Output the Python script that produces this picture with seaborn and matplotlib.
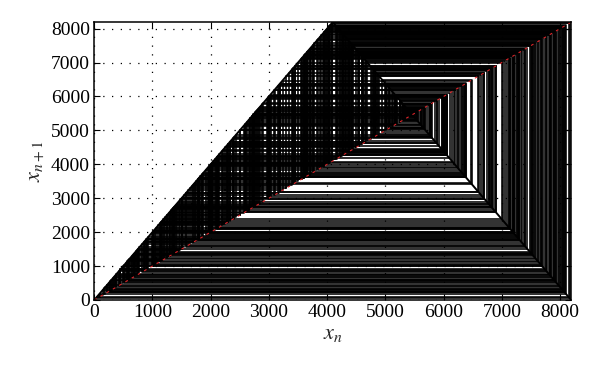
import matplotlib
matplotlib.use("Agg")
import matplotlib.pyplot as plt
import seaborn as sns
import pandas as pd

# Orbits of the discrete tent map (each closes back on its first value)
orbit_a = [1003, 2006, 4012, 8024, 335, 670, 1340, 2680, 5360, 5663, 5057, 6269, 3845, 7690, 1003]
orbit_b = [1010, 2020, 4040, 8080, 223, 446, 892, 1784, 3568, 7136, 2111, 4222, 7939, 505, 1010]
orbit_c = [1021, 2042, 4084, 8168, 47, 94, 188, 376, 752, 1504, 3008, 6016, 4351, 7681, 1021]
orbit_d = [1500, 3000, 6000, 4383, 7617, 1149, 2298, 4596, 7191, 2001, 4002, 8004, 375, 750, 1500]
orbit_e = [2500, 5000, 6383, 3617, 7234, 1915, 3830, 7660, 1063, 2126, 4252, 7879, 625, 1250, 2500]
orbit_f = [3300, 6600, 3183, 6366, 3651, 7302, 1779, 3558, 7116, 2151, 4302, 7779, 825, 1650, 3300]
orbit_g = [5464, 5455, 5473, 5437, 5509, 5365, 5653, 5077, 6229, 3925, 7850, 683, 1366, 2732, 5464]
orbit_h = [5459, 5465, 5453, 5477, 5429, 5525, 5333, 5717, 4949, 6485, 3413, 6826, 2731, 5462, 5459]
orbit_i = [4500, 7383, 1617, 3234, 6468, 3447, 6894, 2595, 5190, 6003, 4377, 7629, 1125, 2250, 4500]
orbit_j = [5800, 4783, 6817, 2749, 5498, 5387, 5609, 5165, 6053, 4277, 7829, 725, 1450, 2900, 5800]
orbit_k = [6700, 2983, 5966, 4451, 7481, 1421, 2842, 5684, 5015, 6353, 3677, 7354, 1675, 3350, 6700]
orbit_l = [1800, 3600, 7200, 1983, 3966, 7932, 519, 1038, 2076, 4152, 8079, 225, 450, 900, 1800]
orbit_m = [2200, 4400, 7583, 1217, 2434, 4868, 6647, 3089, 6178, 4027, 8054, 275, 550, 1100, 2200]
orbit_n = [3700, 7400, 1583, 3166, 6332, 3719, 7438, 1507, 3014, 6028, 4327, 7729, 925, 1850, 3700]
orbit_o = [4800, 6783, 2817, 5634, 5115, 6153, 4077, 8154, 75, 150, 300, 600, 1200, 2400, 4800]
orbit_p = [6200, 3983, 7966, 451, 902, 1804, 3608, 7216, 1951, 3902, 7804, 775, 1550, 3100, 6200]
orbit_q = [7000, 2383, 4766, 6851, 2681, 5362, 5659, 5065, 6253, 3877, 7754, 875, 1750, 3500, 7000]
orbit_r = [7500, 1383, 2766, 5532, 5319, 5745, 4893, 6597, 3189, 6378, 3627, 7254, 1875, 3750, 7500]
orbit_s = [5250, 5883, 4617, 7149, 2085, 4170, 8043, 297, 594, 1188, 2376, 4752, 6879, 2625, 5250]
orbit_t = [5600, 5183, 6017, 4349, 7685, 1013, 2026, 4052, 8104, 175, 350, 700, 1400, 2800, 5600]
orbit_u = [2650, 5300, 5783, 4817, 6749, 2885, 5770, 4843, 6697, 2989, 5978, 4427, 7529, 1325, 2650]
orbit_v = [3950, 7900, 583, 1166, 2332, 4664, 7055, 2273, 4546, 7291, 1801, 3602, 7204, 1975, 3950]
orbit_w = [5420, 5543, 5297, 5789, 4805, 6773, 2837, 5674, 5035, 6313, 3757, 7514, 1355, 2710, 5420]
orbit_x = [5470, 5443, 5497, 5389, 5605, 5173, 6037, 4309, 7765, 853, 1706, 3412, 6824, 2735, 5470]
orbit_y = [1300, 2600, 5200, 5983, 4417, 7549, 1285, 2570, 5140, 6103, 4177, 8029, 325, 650, 1300]
orbit_z = [1700, 3400, 6800, 2783, 5566, 5251, 5881, 4621, 7141, 2101, 4202, 7979, 425, 850, 1700]
orbit_aa = [2300, 4600, 7183, 2017, 4034, 8068, 247, 494, 988, 1976, 3952, 7904, 575, 1150, 2300]
orbit_ab = [3150, 6300, 3783, 7566, 1251, 2502, 5004, 6375, 3633, 7266, 1851, 3702, 7404, 1575, 3150]
orbit_ac = [4650, 7083, 2217, 4434, 7515, 1353, 2706, 5412, 5559, 5265, 5853, 4677, 7029, 2325, 4650]
orbit_ad = [6900, 2583, 5166, 6051, 4281, 7821, 741, 1482, 2964, 5928, 4527, 7329, 1725, 3450, 6900]
orbit_ae = [7300, 1783, 3566, 7132, 2119, 4238, 7907, 569, 1138, 2276, 4552, 7279, 1825, 3650, 7300]
orbit_af = [5480, 5423, 5537, 5309, 5765, 4853, 6677, 3029, 6058, 4267, 7849, 685, 1370, 2740, 5480]

orbits = [orbit_a, orbit_b, orbit_c, orbit_d, orbit_e, orbit_f, orbit_g, orbit_h,
          orbit_i, orbit_j, orbit_k, orbit_l, orbit_m, orbit_n, orbit_o, orbit_p,
          orbit_q, orbit_r, orbit_s, orbit_t, orbit_u, orbit_v, orbit_w, orbit_x,
          orbit_y, orbit_z, orbit_aa, orbit_ab, orbit_ac, orbit_ad, orbit_ae, orbit_af]

# Tent map graph and identity line
tent_x = [0, 4096, 8191]
tent_y = [0, 8191, 1]
diag_x = [0, 8192]
diag_y = [0, 8192]

ticks = [0, 1000, 2000, 3000, 4000, 5000, 6000, 7000, 8000]

# Build cobweb paths
rows = []
for k, orb in enumerate(orbits):
    step = 0
    for a, b in zip(orb[:-1], orb[1:]):
        rows.append((k, step, a, a)); step += 1
        rows.append((k, step, a, b)); step += 1
    rows.append((k, step, orb[-1], orb[-1]))
cob = pd.DataFrame(rows, columns=["orbit", "step", "x", "y"])

sns.set_theme(style="ticks")
plt.rcParams['font.family'] = ['Liberation Serif', 'DejaVu Serif']
plt.rcParams['mathtext.fontset'] = 'stix'

fig = plt.figure(figsize=(6, 3.69), dpi=100)
ax = fig.add_axes([0.157, 0.187, 0.795, 0.753])

ax.grid(True, color='black', linestyle=(0, (1, 6)), linewidth=0.9)
ax.set_axisbelow(True)

sns.lineplot(data=cob, x="x", y="y", units="orbit", estimator=None, sort=False,
             color="black", linewidth=1.15, ax=ax, legend=False, zorder=2)
sns.lineplot(x=tent_x, y=tent_y, color="black", linewidth=1.4, ax=ax, sort=False, zorder=2.1)
ax.plot(diag_x, diag_y, color="#e0252a", linewidth=0.8, linestyle=(0, (2.5, 4)), zorder=2.5)

ax.set_xlim(0, 8192)
ax.set_ylim(0, 8192)
ax.set_xticks(ticks)
ax.set_yticks(ticks)
ax.tick_params(direction='in', top=True, right=True, length=4, width=0.8,
               labelsize=14, colors='black', pad=3)
for sp in ax.spines.values():
    sp.set_linewidth(1.1)
    sp.set_color('black')
    sp.set_zorder(3)
ax.set_xlabel(r'$x_n$', fontsize=16, labelpad=3)
ax.set_ylabel(r'$x_{n+1}$', fontsize=16, labelpad=3)

fig.savefig("out.png", dpi=100)
